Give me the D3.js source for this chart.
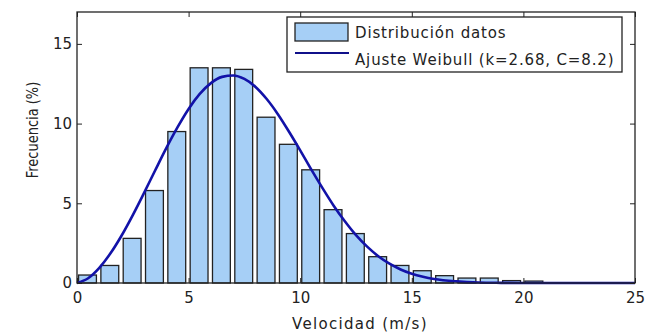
<!DOCTYPE html>
<html>
<head>
<meta charset="utf-8">
<script src="https://cdn.jsdelivr.net/npm/d3@7"></script>
<style>
body { margin: 0; background: #fff; }
text { font-family: "DejaVu Sans", sans-serif; fill: #222; }
</style>
</head>
<body>
<div id="chart"></div>
<script>
// histogram bins (m/s) and frequency (%)
var binStart = [0, 1, 2, 3, 4, 5, 6, 7, 8, 9, 10, 11, 12, 13, 14, 15, 16, 17, 18, 19, 20];
var freq = [0.5, 1.1, 2.8, 5.8, 9.5, 13.5, 13.5, 13.4, 10.4, 8.7, 7.1, 4.6, 3.1, 1.65, 1.1, 0.77, 0.46, 0.31, 0.31, 0.15, 0.12];

// weibull fit curve
var fitV = [0, 0.5, 1, 1.5, 2, 2.5, 3, 3.5, 4, 4.5, 5, 5.5, 6, 6.5, 7, 7.5, 8, 8.5, 9, 9.5, 10, 10.5, 11, 11.5, 12, 12.5, 13, 13.5, 14, 14.5, 15, 15.5, 16, 17, 18, 19, 20, 25];
var fitF = [0, 0.3, 0.95, 1.86, 2.98, 4.26, 5.64, 7.06, 8.46, 9.76, 10.92, 11.86, 12.54, 12.93, 13.02, 12.8, 12.3, 11.54, 10.59, 9.49, 8.32, 7.11, 5.95, 4.85, 3.87, 3.0, 2.28, 1.68, 1.21, 0.85, 0.58, 0.39, 0.25, 0.1, 0.03, 0.01, 0, 0];

var xTicks = [0, 5, 10, 15, 20, 25];
var yTicks = [0, 5, 10, 15];
var legendLabels = ["Distribución datos", "Ajuste Weibull (k=2.68, C=8.2)"];

var width = 645, height = 333;
var margin = {top: 12, right: 10, bottom: 50, left: 77};
var w = 635 - margin.left, h = 283 - margin.top;

var barFill = "#a6cff6";
var lineColor = "#1212a8";

var svg = d3.select("#chart").append("svg")
    .attr("width", width)
    .attr("height", height);

var g = svg.append("g")
    .attr("transform", "translate(" + margin.left + "," + margin.top + ")");

var x = d3.scaleLinear().domain([0, 25]).range([0, w]);
var y = d3.scaleLinear().domain([0, 17]).range([h, 0]);

// bars
g.selectAll("rect.bar")
    .data(binStart)
    .enter()
    .append("rect")
    .attr("class", "bar")
    .attr("x", function(d) { return x(d + 0.07); })
    .attr("width", x(0.8) - x(0))
    .attr("y", function(d, i) { return y(freq[i]); })
    .attr("height", function(d, i) { return h - y(freq[i]); })
    .attr("fill", barFill)
    .attr("stroke", "#222")
    .attr("stroke-width", 1.3);

// fit line
var line = d3.line()
    .x(function(d) { return x(d); })
    .y(function(d, i) { return y(fitF[i]); })
    .curve(d3.curveMonotoneX);

g.append("path")
    .datum(fitV)
    .attr("d", line)
    .attr("fill", "none")
    .attr("stroke", lineColor)
    .attr("stroke-width", 2.6);

// axes, matlab style box with inward ticks
function styleAxis(sel) {
    sel.select(".domain").remove();
    sel.selectAll(".tick line").attr("stroke", "#222").attr("stroke-width", 1);
    sel.selectAll(".tick text")
        .style("font-family", "DejaVu Sans, sans-serif")
        .style("font-size", "15px")
        .attr("fill", "#222");
}

g.append("g")
    .attr("transform", "translate(0," + h + ")")
    .call(d3.axisBottom(x).tickValues(xTicks).tickSizeInner(-5).tickSizeOuter(0).tickPadding(9))
    .call(styleAxis);

g.append("g")
    .call(d3.axisTop(x).tickValues(xTicks).tickSizeInner(-5).tickSizeOuter(0).tickFormat(""))
    .call(styleAxis);

g.append("g")
    .call(d3.axisLeft(y).tickValues(yTicks).tickSizeInner(-5).tickSizeOuter(0).tickPadding(5))
    .call(styleAxis);

g.append("g")
    .attr("transform", "translate(" + w + ",0)")
    .call(d3.axisRight(y).tickValues(yTicks).tickSizeInner(-5).tickSizeOuter(0).tickFormat(""))
    .call(styleAxis);

g.append("rect")
    .attr("width", w)
    .attr("height", h)
    .attr("fill", "none")
    .attr("stroke", "#222")
    .attr("stroke-width", 1.3);

// axis titles
svg.append("text")
    .attr("x", 360)
    .attr("y", 329)
    .attr("text-anchor", "middle")
    .style("font-size", "15px")
    .style("letter-spacing", "1.3px")
    .text("Velocidad (m/s)");

svg.append("text")
    .attr("transform", "translate(38,130) rotate(-90) scale(1,1.2)")
    .attr("text-anchor", "middle")
    .style("font-size", "13px")
    .text("Frecuencia (%)");

// legend
var lg = svg.append("g").attr("transform", "translate(287,17)");
lg.append("rect")
    .attr("width", 335)
    .attr("height", 55)
    .attr("fill", "#fff")
    .attr("stroke", "#222")
    .attr("stroke-width", 1.3);
lg.append("rect")
    .attr("x", 8).attr("y", 6)
    .attr("width", 53).attr("height", 18)
    .attr("fill", barFill)
    .attr("stroke", "#222")
    .attr("stroke-width", 1.3);
lg.append("line")
    .attr("x1", 8).attr("x2", 62)
    .attr("y1", 36).attr("y2", 36)
    .attr("stroke", "#10108a")
    .attr("stroke-width", 2.2);
lg.selectAll("text.lab")
    .data(legendLabels)
    .enter()
    .append("text")
    .attr("class", "lab")
    .attr("x", 68)
    .attr("y", function(d, i) { return 21 + i * 27; })
    .style("font-size", "15px")
    .style("letter-spacing", "0.85px")
    .text(function(d) { return d; });
</script>
</body>
</html>
